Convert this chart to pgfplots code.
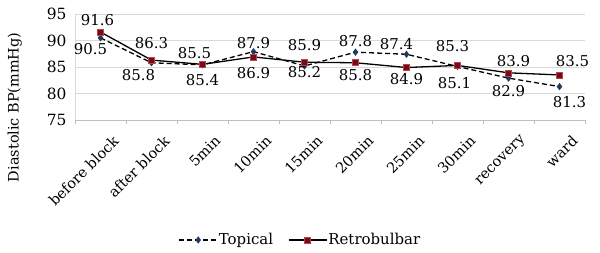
\documentclass[border=0pt]{standalone}
\usepackage{pgfplots}
\pgfplotsset{compat=1.18}
\usepackage{pgfplotstable}
\usepackage{fontspec}
\setmainfont{DejaVu Serif}
\usetikzlibrary{calc}
\definecolor{gridc}{HTML}{D9D9D9}
\definecolor{axc}{HTML}{BFBFBF}
\definecolor{navy}{HTML}{1F3A60}
\definecolor{maroon}{HTML}{6B0F1A}
\definecolor{pinkedge}{HTML}{C04050}

\pgfplotstableread{
x y lx ly
0 90.5 -10 -11
1 85.8 -13 -12
2 85.4 0 -15
3 87.9 0 9
4 85.2 0 -6
5 87.8 0 11
6 87.4 -10 10
7 85.1 -3 -17
8 82.9 0 -13
9 81.3 10 -15
}\topical

\pgfplotstableread{
x y lx ly
0 91.6 -3 12
1 86.3 0 17
2 85.5 -8 11
3 86.9 0 -16
4 85.9 0 17
5 85.8 0 -12
6 84.9 0 -12
7 85.3 -5 19
8 83.9 5 12
9 83.5 13 14
}\retro

\begin{document}
\begin{tikzpicture}
\begin{axis}[
  name=ax,
  scale only axis,
  width=510bp, height=106bp,
  xmin=-0.5, xmax=9.5,
  ymin=75, ymax=95,
  ytick={75,80,85,90,95},
  xtick={0,...,9},
  xticklabels={before block,after block,5min,10min,15min,20min,25min,30min,recovery,ward},
  minor xtick={-0.5,0.5,...,9.5},
  major tick length=0pt,
  minor tick length=4bp,
  tick pos=left,
  tick align=outside,
  axis x line*=bottom,
  axis y line*=left,
  x axis line style={axc, line width=0.8bp, -},
  y axis line style={gridc, line width=0.8bp, -},
  every tick/.style={axc, line width=0.8bp},
  ymajorgrids,
  grid style={gridc, line width=0.8bp},
  /pgf/number format/assume math mode=true,
  yticklabel style={font=\fontsize{15.5}{17}\selectfont, xshift=-5bp},
  xticklabel style={font=\fontsize{14.5}{16}\selectfont, rotate=45, anchor=north east, inner sep=1bp, yshift=-17bp, xshift=-1bp},
  ylabel={Diastolic BP(mmHg)},
  ylabel style={font=\fontsize{14.5}{16}\selectfont, at={(axis description cs:-0.118,0.12)}, anchor=center},
  clip=false,
  legend columns=2,
  legend style={at={(0.441,-1.132)}, anchor=center, draw=none, fill=none,
    font=\fontsize{15}{17}\selectfont, inner xsep=0pt,
    nodes={inner xsep=1bp},
    /tikz/every even column/.append style={column sep=14bp}},
  legend image code/.code={\draw[mark repeat=2,mark phase=2,#1] plot coordinates {(0bp,0bp) (19bp,0bp) (38bp,0bp)};},
  nodes near coords={\pgfmathprintnumber[fixed,fixed zerofill,precision=1]{\pgfplotspointmeta}},
  visualization depends on={\thisrow{lx} \as \lxv},
  visualization depends on={\thisrow{ly} \as \lyv},
  every node near coord/.append style={font=\fontsize{15}{17}\selectfont, text=black, anchor=center, xshift=\lxv bp, yshift=\lyv bp, inner sep=0pt},
]
\addplot[black, line width=1.3bp, dash pattern=on 5bp off 3bp, mark=diamond*, mark size=2.6bp,
  mark options={solid, fill=navy, draw=navy}] table[x=x,y=y] {\topical};
\addlegendentry{Topical}
\addplot[black, line width=1.3bp, mark=square*, mark size=3bp,
  mark options={solid, fill=maroon, draw=pinkedge, line width=0.6bp}] table[x=x,y=y] {\retro};
\addlegendentry{Retrobulbar}
\end{axis}
\pgfresetboundingbox
\path[use as bounding box] ($(ax.south west)+(-75bp,-133bp)$) rectangle ($(ax.south west)+(525bp,120bp)$);
\end{tikzpicture}
\end{document}
